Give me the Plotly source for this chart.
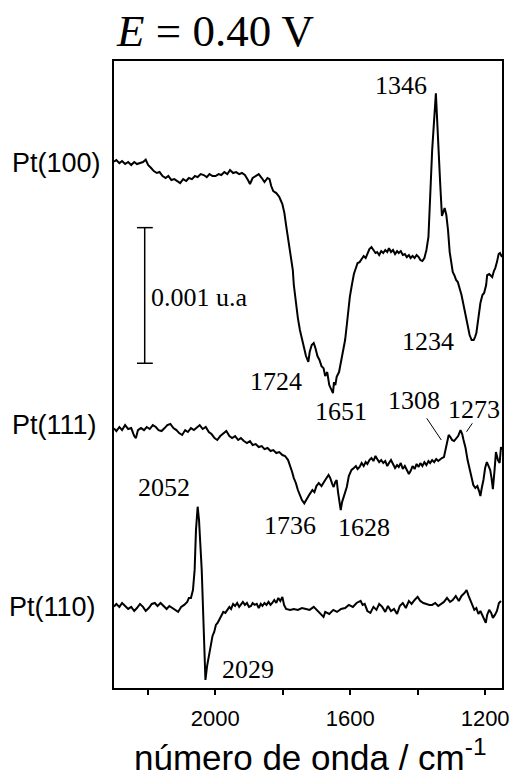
import plotly.graph_objects as go

# ---------------- data (absorbance change, units of 1e-4 a.u., relative to each baseline) ----
wn_100 = [2300, 2293, 2284, 2276, 2267, 2258, 2249, 2240, 2232, 2223, 2214, 2206, 2199, 2190, 2182,
          2173, 2165, 2156, 2147, 2139, 2130, 2121, 2112, 2104, 2095, 2086, 2078, 2069, 2060, 2052,
          2043, 2034, 2025, 2017, 2008, 1999, 1990, 1982, 1973, 1964, 1956, 1947, 1938, 1929, 1921,
          1912, 1903, 1897, 1889, 1880, 1871, 1862, 1854, 1845, 1839, 1834, 1828, 1819, 1810, 1801,
          1795, 1790, 1784, 1778, 1770, 1767, 1761, 1755, 1749, 1743, 1737, 1731, 1724, 1720, 1714,
          1708, 1703, 1697, 1691, 1685, 1679, 1674, 1668, 1662, 1651, 1648, 1644, 1640, 1633, 1627,
          1621, 1615, 1610, 1604, 1601, 1595, 1589, 1581, 1578, 1572, 1567, 1560, 1554, 1549, 1543,
          1537, 1531, 1525, 1520, 1514, 1508, 1502, 1496, 1490, 1485, 1479, 1473, 1467, 1461, 1456,
          1450, 1444, 1438, 1432, 1426, 1421, 1415, 1409, 1403, 1397, 1392, 1386, 1380, 1374, 1368,
          1363, 1357, 1346, 1342, 1338, 1333, 1328, 1320, 1315, 1310, 1305, 1301, 1296, 1290, 1286,
          1281, 1275, 1270, 1264, 1258, 1252, 1246, 1240, 1234, 1230, 1226, 1220, 1214, 1208, 1203,
          1197, 1194, 1188, 1182, 1179, 1174, 1170, 1165, 1160, 1156, 1150]
pt100 = [0, 0.13, -0.10, 0.05, -0.17, -0.02, -0.24, -0.02, -0.17, -0.10, -0.02, 0.15, -0.24, -0.46, -0.69,
         -0.83, -0.76, -1.05, -1.20, -1.05, -1.35, -1.28, -1.42, -1.57, -1.28, -1.42, -1.20, -1.28, -1.05, -1.13,
         -0.91, -0.98, -1.13, -0.91, -1.05, -1.05, -0.91, -0.98, -0.76, -0.91, -0.61, -0.83, -0.76, -0.91, -0.83,
         -0.98, -1.35, -1.64, -1.20, -1.05, -0.91, -1.20, -1.50, -1.20, -1.28, -1.79, -2.16, -2.31, -2.60, -3.12,
         -3.78, -4.67, -5.77, -6.88, -7.99, -9.09, -10.42, -11.53, -12.41, -13.00, -13.52, -14.33, -14.75, -14.03, -13.52,
         -13.37, -13.74, -14.33, -14.62, -15.07, -15.22, -15.80, -15.51, -16.47, -17.06, -16.25, -16.47, -15.86, -15.51, -14.62,
         -13.74, -13.15, -12.04, -10.57, -9.96, -9.09, -8.28, -7.69, -7.47, -7.40, -7.18, -6.95, -7.10, -6.81, -6.44,
         -6.29, -6.51, -6.73, -6.66, -6.88, -6.59, -6.73, -6.51, -6.66, -6.37, -6.66, -6.51, -6.81, -6.59, -6.73,
         -6.59, -6.88, -6.81, -7.03, -6.88, -7.10, -6.95, -7.10, -6.88, -7.03, -7.25, -7.32, -7.10, -6.51, -5.55,
         -3.05, 0.86, 5.04, 2.71, 0.13, -1.72, -4.00, -3.41, -3.93, -5.04, -6.66, -7.47, -8.13, -8.43, -8.72,
         -8.87, -9.31, -9.83, -10.57, -11.23, -12.12, -12.78, -13.15, -13.15, -12.93, -12.63, -11.53, -10.42, -9.83, -9.68,
         -9.09, -8.36, -8.28, -8.43, -8.50, -8.06, -7.84, -7.40, -6.81, -6.73, -7.03]

wn_111 = [2300, 2293, 2284, 2276, 2267, 2258, 2249, 2240, 2235, 2229, 2220, 2211, 2203, 2194, 2185,
          2176, 2168, 2159, 2150, 2142, 2133, 2124, 2115, 2107, 2098, 2089, 2081, 2072, 2063, 2054,
          2046, 2037, 2028, 2019, 2011, 2002, 1994, 1985, 1976, 1967, 1958, 1950, 1941, 1932, 1924,
          1915, 1906, 1897, 1889, 1880, 1871, 1862, 1854, 1845, 1836, 1828, 1819, 1810, 1801, 1793,
          1784, 1778, 1772, 1767, 1761, 1755, 1749, 1743, 1736, 1731, 1726, 1720, 1712, 1706, 1700,
          1693, 1685, 1679, 1674, 1664, 1659, 1653, 1649, 1644, 1640, 1636, 1628, 1624, 1618, 1610,
          1604, 1596, 1589, 1583, 1578, 1572, 1566, 1560, 1554, 1549, 1543, 1537, 1531, 1525, 1520,
          1514, 1508, 1502, 1496, 1490, 1485, 1479, 1473, 1467, 1461, 1456, 1450, 1444, 1438, 1432,
          1426, 1421, 1415, 1409, 1403, 1397, 1392, 1386, 1380, 1374, 1368, 1363, 1357, 1351, 1345,
          1339, 1333, 1328, 1322, 1316, 1308, 1303, 1298, 1292, 1286, 1280, 1273, 1268, 1264, 1258,
          1252, 1246, 1240, 1235, 1229, 1223, 1217, 1214, 1210, 1205, 1200, 1195, 1191, 1185, 1181,
          1177, 1172, 1168, 1162, 1157, 1153, 1150]
pt111 = [0, -0.20, 0.10, -0.13, 0.24, -0.05, 0.02, -0.57, -0.72, -0.13, 0.02, -0.13, 0.10, -0.05, 0.24,
         0.10, -0.13, -0.20, 0.02, 0.24, 0.32, 0.02, -0.13, -0.35, -0.49, -0.13, -0.27, 0.02, -0.13, 0.10,
         0.24, -0.05, 0.10, -0.27, -0.42, -0.72, -0.86, -0.57, -0.35, -0.20, -0.57, -0.72, -0.57, -0.86, -0.72,
         -0.94, -1.08, -0.94, -1.23, -1.16, -1.38, -1.31, -1.53, -1.45, -1.67, -1.60, -1.82, -1.75, -1.97, -2.04,
         -2.34, -2.71, -3.22, -3.67, -4.03, -4.55, -4.99, -5.29, -5.53, -5.29, -5.07, -4.85, -4.55, -4.70, -4.26,
         -4.03, -4.26, -3.96, -3.81, -3.44, -3.67, -4.11, -4.33, -3.96, -3.81, -4.70, -6.03, -5.44, -4.92, -4.33,
         -3.52, -3.07, -2.93, -2.78, -3.00, -2.85, -2.56, -2.78, -2.49, -2.63, -2.34, -2.19, -2.41, -2.04, -2.26,
         -2.49, -2.34, -2.56, -2.41, -2.78, -2.56, -2.34, -2.63, -2.93, -2.71, -2.85, -2.56, -3.00, -2.78, -3.07,
         -3.37, -3.15, -2.78, -3.00, -2.63, -2.85, -2.56, -2.78, -2.49, -2.71, -2.41, -2.56, -2.34, -2.49, -2.26,
         -2.41, -2.26, -2.19, -2.12, -1.45, -0.49, -0.64, -0.86, -0.94, -0.79, -0.57, -0.13, -0.42, -0.86, -1.45,
         -2.34, -3.07, -3.81, -4.18, -4.40, -4.26, -4.70, -4.99, -4.40, -3.81, -2.93, -2.49, -2.71, -3.07, -3.67,
         -4.48, -3.07, -1.75, -2.34, -2.56, -1.38, -1.60]

wn_110 = [2300, 2293, 2284, 2276, 2267, 2258, 2249, 2240, 2232, 2223, 2214, 2206, 2197, 2188, 2179,
          2171, 2162, 2153, 2144, 2136, 2127, 2118, 2110, 2101, 2092, 2083, 2078, 2072, 2066, 2061,
          2057, 2052, 2048, 2044, 2040, 2035, 2032, 2029, 2024, 2018, 2012, 2008, 2003, 1998, 1993,
          1988, 1982, 1976, 1970, 1964, 1958, 1953, 1947, 1941, 1935, 1929, 1924, 1918, 1912, 1906,
          1900, 1894, 1889, 1883, 1877, 1871, 1865, 1860, 1854, 1848, 1842, 1836, 1831, 1825, 1819,
          1813, 1807, 1801, 1796, 1790, 1778, 1767, 1755, 1743, 1731, 1720, 1708, 1697, 1685, 1679,
          1674, 1662, 1650, 1639, 1627, 1615, 1604, 1592, 1581, 1569, 1563, 1557, 1549, 1540, 1531,
          1522, 1514, 1505, 1496, 1488, 1479, 1470, 1461, 1453, 1444, 1435, 1426, 1418, 1409, 1400,
          1392, 1383, 1374, 1365, 1357, 1348, 1339, 1330, 1322, 1313, 1304, 1296, 1287, 1278, 1270,
          1261, 1255, 1249, 1244, 1238, 1232, 1226, 1220, 1214, 1208, 1203, 1198, 1194, 1188, 1182,
          1177, 1171, 1165, 1159, 1153]
pt110 = [0, 0.20, -0.02, 0.27, 0.05, -0.17, -0.02, -0.32, -0.10, 0.20, -0.02, -0.32, -0.10, 0.20, 0.27,
         0.05, 0.27, 0.05, -0.17, 0.05, -0.10, -0.24, -0.39, -0.02, 0.13, 0.35, 0.64, 0.64, 1.23, 2.71,
         5.66, 7.37, 6.39, 4.55, 2.71, -0.98, -3.56, -5.41, -4.37, -3.41, -2.46, -2.16, -1.87, -1.35, -1.20,
         -0.98, -0.61, -0.39, -0.46, -0.24, -0.02, -0.17, 0.20, 0.05, 0.27, -0.02, 0.13, 0.35, 0.13, 0.27,
         -0.02, 0.05, 0.27, 0.13, 0.20, -0.10, 0.20, 0.05, 0.27, 0.13, 0.35, 0.13, 0.27, 0.49, 0.27,
         0.64, 0.42, 0.72, 0.13, -0.17, -0.24, -0.17, -0.24, -0.10, -0.17, -0.24, -0.02, -0.32, -0.61, -0.76,
         -0.39, -0.54, -0.24, -0.39, -0.17, -0.10, 0.13, -0.02, 0.27, 0.42, 0.13, 0.20, -0.32, -0.46, -0.02,
         -0.24, 0.20, -0.02, -0.39, 0.05, -0.32, -0.17, -0.54, 0.05, 0.27, -0.10, 0.42, 0.20, 0.49, 0.72,
         0.42, 0.27, 0.20, 0.13, 0.13, 0.27, 0.05, 0.20, 0.35, 0.64, 0.35, 0.49, 0.79, 0.42, 0.79,
         1.01, 1.23, 0.79, 0.49, 0.05, -0.24, -0.10, -0.54, -0.32, -0.69, -0.91, -1.20, -0.61, -0.24, -0.46,
         -0.83, -0.61, -0.32, 0.27, 0.42]

surfaces = ["Pt(100)", "Pt(111)", "Pt(110)"]
offsets = [38.81, 19.15, 6.00]          # vertical stacking of the spectra
spectra = [(wn_100, pt100), (wn_111, pt111), (wn_110, pt110)]

peak_labels = ["1346", "1724", "1651", "1234", "1308", "1273", "1736", "1628", "2052", "2029"]
tick_vals = [2000, 1600, 1200]
scale_bar = 10.0   # 0.001 a.u. in units of 1e-4 a.u.

SERIF = "Liberation Serif, Times New Roman, serif"
SANS = "Liberation Sans, Arial, sans-serif"

fig = go.Figure()
for (wn, vals), off in zip(spectra, offsets):
    fig.add_trace(go.Scatter(x=wn, y=[v + off for v in vals], mode="lines",
                             line=dict(color="black", width=2), showlegend=False,
                             hoverinfo="skip"))

# peak label positions (wavenumber, y)
label_pos = [(1448, 44.40), (1819, 22.64), (1627, 20.39), (1368, 25.52), (1412, 21.20),
             (1233, 20.52), (1778, 11.95), (1560, 11.87), (2153, 14.75), (1903, 1.40)]
annotations = []
for txt, (x, y) in zip(peak_labels, label_pos):
    annotations.append(dict(x=x, y=y, xref="x", yref="y", text=txt, showarrow=False,
                            font=dict(family=SERIF, size=26, color="black")))

# scale bar label
annotations.append(dict(x=2195, y=28.83, xref="x", yref="y", text="0.001 u.a", showarrow=False,
                        xanchor="left", font=dict(family=SERIF, size=26, color="black")))

# surface labels
for name, y, xr in zip(surfaces, [38.69, 19.40, 5.99], [-0.028, -0.038, -0.041]):
    annotations.append(dict(x=xr, y=y, xref="paper", yref="y", text=name, showarrow=False,
                            xanchor="right", font=dict(family=SANS, size=27, color="black")))

# title
annotations.append(dict(x=0.0, y=1.048, xref="paper", yref="paper", text="<i>E</i> = 0.40 V",
                        showarrow=False, xanchor="left", yanchor="middle",
                        font=dict(family=SERIF, size=45, color="black")))
# x axis title
annotations.append(dict(x=0.506, y=-0.107, xref="paper", yref="paper",
                        text="número de onda / cm<sup>-1</sup>", showarrow=False,
                        xanchor="center", yanchor="middle",
                        font=dict(family=SANS, size=35, color="black")))

shapes = []
bar_x, bar_y0 = 2209, 23.95
shapes.append(dict(type="line", xref="x", yref="y", x0=bar_x, x1=bar_x, y0=bar_y0, y1=bar_y0 + scale_bar,
                   line=dict(color="black", width=1.5)))
for yy in (bar_y0, bar_y0 + scale_bar):
    shapes.append(dict(type="line", xref="x", yref="y", x0=2232, x1=2185, y0=yy, y1=yy,
                       line=dict(color="black", width=1.5)))
# pointer lines
shapes.append(dict(type="line", xref="x", yref="y", x0=1373, x1=1330, y0=19.89, y1=18.29,
                   line=dict(color="black", width=1)))
shapes.append(dict(type="line", xref="x", yref="y", x0=1255, x1=1238, y0=18.90, y1=19.52,
                   line=dict(color="black", width=1)))

fig.update_layout(
    width=518, height=783,
    margin=dict(l=114, r=9, t=61, b=95),
    paper_bgcolor="white", plot_bgcolor="white",
    annotations=annotations, shapes=shapes,
    xaxis=dict(range=[2300, 1150], tickvals=tick_vals, ticks="outside", ticklen=5, tickwidth=1.5,
               tickcolor="black", showline=True, mirror=True, linecolor="black", linewidth=1.5,
               showgrid=False, zeroline=False, ticklabelstandoff=5,
               tickfont=dict(family=SANS, size=22, color="black"),
               minor=dict(tickvals=[2200, 1800, 1400], ticks="outside", ticklen=5, tickwidth=1.5,
                          tickcolor="black", showgrid=False)),
    yaxis=dict(range=[0, 46.24], showticklabels=False, ticks="", showline=True, mirror=True,
               linecolor="black", linewidth=1.5, showgrid=False, zeroline=False),
)

fig.write_html("out.html")
